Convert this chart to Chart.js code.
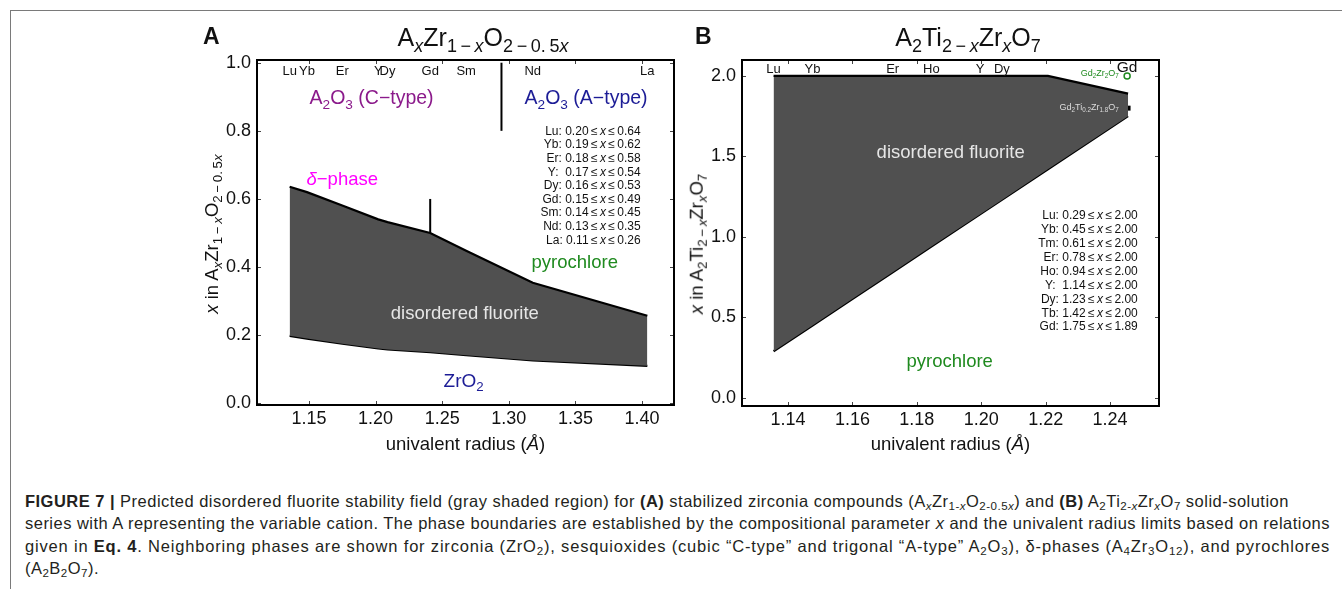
<!DOCTYPE html>
<html><head><meta charset="utf-8">
<script src="https://cdn.jsdelivr.net/npm/chart.js@4.4.1/dist/chart.umd.min.js"></script>
<style>
html,body{margin:0;padding:0;background:#fff;}
body{width:1342px;height:589px;position:relative;overflow:hidden;font-family:"Liberation Sans",Arial,sans-serif;color:#111;}
.frame{position:absolute;left:10px;top:10px;width:1400px;height:700px;border-left:1px solid #7a7a7a;border-top:1px solid #7a7a7a;}
canvas{position:absolute;top:0;}
.letter{position:absolute;font-weight:bold;font-size:23px;line-height:23px;}
.title{position:absolute;font-size:25px;line-height:25px;white-space:nowrap;transform:translateX(-50%);}
.title sub,.ytitle sub{font-size:0.72em;vertical-align:-0.32em;line-height:0;}
.xtitle{position:absolute;font-size:18.5px;line-height:18.5px;white-space:nowrap;transform:translateX(-50%);}
.ytitle{position:absolute;font-size:18.5px;line-height:18.5px;white-space:nowrap;transform:translate(-50%,-50%) rotate(-90deg);}
.caption{position:absolute;left:25px;top:490px;font-size:16.5px;line-height:22.4px;color:#231f20;}
.caption div{white-space:nowrap;}
.caption sub{font-size:0.7em;vertical-align:-0.25em;line-height:0;}
</style>
</head><body>
<div class="frame"></div>
<canvas id="cA" width="495" height="470" style="left:190px"></canvas>
<canvas id="cB" width="500" height="470" style="left:680px"></canvas>

<div class="letter" style="left:203px;top:25px">A</div>
<div class="letter" style="left:695px;top:25px">B</div>
<div class="title" style="left:483px;top:25px">A<sub><i>x</i></sub>Zr<sub>1&#8201;−&#8201;<i>x</i></sub>O<sub>2&#8201;−&#8201;0.&#8201;5<i>x</i></sub></div>
<div class="title" style="left:968px;top:25px">A<sub>2</sub>Ti<sub>2&#8201;−&#8201;<i>x</i></sub>Zr<sub><i>x</i></sub>O<sub>7</sub></div>
<div class="xtitle" style="left:465.5px;top:435px">univalent radius (<i>Å</i>)</div>
<div class="xtitle" style="left:950.5px;top:435px">univalent radius (<i>Å</i>)</div>
<div class="ytitle" style="left:212px;top:234px"><i>x</i> in A<sub><i>x</i></sub>Zr<sub>1&#8201;−&#8201;<i>x</i></sub>O<sub>2&#8201;−&#8201;0.&#8201;5<i>x</i></sub></div>
<div class="ytitle" style="left:697px;top:244px"><i>x</i> in A<sub>2</sub>Ti<sub>2&#8201;−&#8201;<i>x</i></sub>Zr<sub><i>x</i></sub>O<sub>7</sub></div>

<div class="caption">
<div class="c1"><b>FIGURE 7 |</b> Predicted disordered fluorite stability field (gray shaded region) for <b>(A)</b> stabilized zirconia compounds (A<sub><i>x</i></sub>Zr<sub>1-<i>x</i></sub>O<sub>2-0.5<i>x</i></sub>) and <b>(B)</b> A<sub>2</sub>Ti<sub>2-<i>x</i></sub>Zr<sub><i>x</i></sub>O<sub>7</sub> solid-solution</div>
<div class="cl" data-w="1305">series with A representing the variable cation. The phase boundaries are established by the compositional parameter <i>x</i> and the univalent radius limits based on relations</div>
<div class="cl" data-w="1305">given in <b>Eq. 4</b>. Neighboring phases are shown for zirconia (ZrO<sub>2</sub>), sesquioxides (cubic “C-type” and trigonal “A-type” A<sub>2</sub>O<sub>3</sub>), δ-phases (A<sub>4</sub>Zr<sub>3</sub>O<sub>12</sub>), and pyrochlores</div>
<div class="c4">(A<sub>2</sub>B<sub>2</sub>O<sub>7</sub>).</div>
</div>

<script>
// ===== Panel A data: A_xZr(1-x)O(2-0.5x) =====
const aElements = ['Lu','Yb','Er','Y','Dy','Gd','Sm','Nd','La'];
const aRadius   = [1.1355, 1.1485, 1.175, 1.202, 1.209, 1.241, 1.268, 1.318, 1.404];
// stability ranges as printed in the panel's table
const aLowerX   = [0.20, 0.19, 0.18, 0.17, 0.16, 0.15, 0.14, 0.13, 0.11];
const aUpperX   = [0.64, 0.62, 0.58, 0.54, 0.53, 0.49, 0.45, 0.35, 0.26];
// boundary curves as drawn
const aLowerCurve = [0.198, 0.190, 0.175, 0.161, 0.158, 0.150, 0.141, 0.126, 0.110];
const aUpperCurve = [0.636, 0.620, 0.581, 0.540, 0.532, 0.500, 0.448, 0.354, 0.257];
const aDeltaLine = [[1.241, 0.50], [1.241, 0.60]];
const aTypeLine  = [[1.2945, 0.80], [1.2945, 1.00]];
const aXTicks = [1.15, 1.20, 1.25, 1.30, 1.35, 1.40];
const aXTickLabels = ['1.15','1.20','1.25','1.30','1.35','1.40'];
const aYTicks = [0, 0.2, 0.4, 0.6, 0.8, 1.0];
const aYTickLabels = ['0.0','0.2','0.4','0.6','0.8','1.0'];

// ===== Panel B data: A2Ti(2-x)Zr(x)O7 =====
const bElements = ['Lu','Yb','Tm','Er','Ho','Y','Dy','Tb','Gd'];
const bRadius   = [1.1355, 1.1476, 1.1596, 1.1725, 1.1845, 1.1996, 1.2064, 1.2207, 1.2456];
const bLowerX   = [0.29, 0.45, 0.61, 0.78, 0.94, 1.14, 1.23, 1.42, 1.75];
const bUpperX   = [2.00, 2.00, 2.00, 2.00, 2.00, 2.00, 2.00, 2.00, 1.89];
const bTopLabels = ['Lu','Yb','Er','Ho','Y','Dy'];
const bGd2Zr2O7 = [1.2453, 2.00];
const bGdTiZr   = [1.2456, 1.80];
const bXTicks = [1.14, 1.16, 1.18, 1.20, 1.22, 1.24];
const bXTickLabels = ['1.14','1.16','1.18','1.20','1.22','1.24'];
const bYTicks = [0, 0.5, 1.0, 1.5, 2.0];
const bYTickLabels = ['0.0','0.5','1.0','1.5','2.0'];

const FONT = '"Liberation Sans", Arial, sans-serif';
const FILL = '#505050';
const GREEN = '#1f8a1f', PURPLE = '#8b1a8b', BLUE = '#1c1c96', MAGENTA = '#ff00ff', LIGHT = '#e6e6e6';
Chart.defaults.font.family = FONT;

function drawRich(ctx, segs, px, py, size, color, align) {
  const parts = segs.map(([t, f]) => {
    f = f || 0;
    const sub = f & 1, it = f & 2;
    const s = sub ? size * 0.7 : size;
    const font = (it ? 'italic ' : '') + s + 'px ' + FONT;
    ctx.font = font;
    return {t, font, w: ctx.measureText(t).width, dy: sub ? size * 0.22 : 0};
  });
  const W = parts.reduce((a, p) => a + p.w, 0);
  let x = align === 'right' ? px - W : align === 'left' ? px : px - W / 2;
  const base = py + size * 0.36;
  ctx.fillStyle = color; ctx.textBaseline = 'alphabetic'; ctx.textAlign = 'left';
  parts.forEach(p => { ctx.font = p.font; ctx.fillText(p.t, x, base + p.dy); x += p.w; });
}

const boxTicks = {
  id: 'boxTicks',
  afterDatasetsDraw(chart) {
    const {ctx, chartArea: a, scales: {x, y}} = chart;
    ctx.save();
    ctx.strokeStyle = '#444'; ctx.lineWidth = 1;
    const L = 4;
    ctx.beginPath();
    x.ticks.forEach(t => {
      const p = Math.round(x.getPixelForValue(t.value)) + 0.5;
      ctx.moveTo(p, a.bottom); ctx.lineTo(p, a.bottom - L);
      ctx.moveTo(p, a.top); ctx.lineTo(p, a.top + L);
    });
    y.ticks.forEach(t => {
      const p = Math.round(y.getPixelForValue(t.value)) + 0.5;
      ctx.moveTo(a.left, p); ctx.lineTo(a.left + L, p);
      ctx.moveTo(a.right, p); ctx.lineTo(a.right - L, p);
    });
    ctx.stroke();
    ctx.strokeStyle = '#000'; ctx.lineWidth = 2;
    ctx.strokeRect(a.left, a.top, a.right - a.left, a.bottom - a.top);
    ctx.restore();
  }
};

function rangeText(el, lo, hi) {
  return [[el + ':' + (el.length === 1 ? '  ' : ' ') + lo.toFixed(2) + '\u2009≤\u2009'], ['x', 2], ['\u2009≤\u2009' + hi.toFixed(2)]];
}

function notesPlugin(draw) {
  return { id: 'notes', afterDraw(chart) { const ctx = chart.ctx; ctx.save(); draw(ctx, chart.scales.x, chart.scales.y); ctx.restore(); } };
}

function baseOptions(xmin, xmax, ymin, ymax, xt, xl, yt, yl, yWidth, xHeight, padRight) {
  return {
    responsive: false, animation: false, devicePixelRatio: 1,
    layout: {padding: {top: 60, right: padRight, left: 0, bottom: 0}},
    plugins: {legend: {display: false}, tooltip: {enabled: false}},
    scales: {
      x: {type: 'linear', min: xmin, max: xmax,
        afterFit(s) { s.height = xHeight; },
        afterBuildTicks(s) { s.ticks = xt.map(v => ({value: v})); },
        ticks: {callback: (v, i) => xl[i], font: {size: 18}, color: '#111', padding: 3, maxRotation: 0, autoSkip: false, includeBounds: false},
        grid: {display: false, drawTicks: false}, border: {display: false}},
      y: {type: 'linear', min: ymin, max: ymax,
        afterFit(s) { s.width = yWidth; },
        afterBuildTicks(s) { s.ticks = yt.map(v => ({value: v})); },
        ticks: {callback: (v, i) => yl[i], font: {size: 18}, color: '#111', padding: 6, autoSkip: false, includeBounds: false},
        grid: {display: false, drawTicks: false}, border: {display: false}}
    }
  };
}

// ---------- Panel A ----------
new Chart(document.getElementById('cA'), {
  type: 'line',
  data: {datasets: [
    {data: aRadius.map((r, i) => ({x: r, y: aUpperCurve[i]})), borderColor: '#000', borderWidth: 2.2, backgroundColor: FILL, fill: '+1', pointRadius: 0},
    {data: aRadius.map((r, i) => ({x: r, y: aLowerCurve[i]})), borderColor: '#000', borderWidth: 2.2, fill: false, pointRadius: 0},
    {data: aDeltaLine.map(p => ({x: p[0], y: p[1]})), borderColor: '#000', borderWidth: 2, fill: false, pointRadius: 0},
    {data: aTypeLine.map(p => ({x: p[0], y: p[1]})), borderColor: '#000', borderWidth: 2, fill: false, pointRadius: 0}
  ]},
  options: baseOptions(1.111, 1.424, -0.005, 1.008, aXTicks, aXTickLabels, aYTicks, aYTickLabels, 67, 65, 11),
  plugins: [boxTicks, notesPlugin((ctx, x, y) => {
    aElements.forEach((el, i) => drawRich(ctx, [[el]], x.getPixelForValue(aRadius[i]), y.getPixelForValue(0.977), 13, '#111', 'center'));
    drawRich(ctx, [['A'], ['2', 1], ['O'], ['3', 1], [' (C−type)']], x.getPixelForValue(1.197), y.getPixelForValue(0.898), 19.5, PURPLE, 'center');
    drawRich(ctx, [['A'], ['2', 1], ['O'], ['3', 1], [' (A−type)']], x.getPixelForValue(1.358), y.getPixelForValue(0.898), 19.5, BLUE, 'center');
    drawRich(ctx, [['δ', 2], ['−phase']], x.getPixelForValue(1.175), y.getPixelForValue(0.661), 18.5, MAGENTA, 'center');
    drawRich(ctx, [['pyrochlore']], x.getPixelForValue(1.3495), y.getPixelForValue(0.417), 18.5, GREEN, 'center');
    drawRich(ctx, [['disordered fluorite']], x.getPixelForValue(1.267), y.getPixelForValue(0.266), 18.5, LIGHT, 'center');
    drawRich(ctx, [['ZrO'], ['2', 1]], x.getPixelForValue(1.2661), y.getPixelForValue(0.067), 19, BLUE, 'center');
    const rx = x.getPixelForValue(1.399), ry = y.getPixelForValue(0.801);
    aElements.forEach((el, i) => drawRich(ctx, rangeText(el, aLowerX[i], aUpperX[i]), rx, ry + i * 13.6, 12, '#111', 'right'));
  })]
});

// ---------- Panel B ----------
new Chart(document.getElementById('cB'), {
  type: 'line',
  data: {datasets: [
    {data: bRadius.map((r, i) => ({x: r, y: bUpperX[i]})), borderColor: '#000', borderWidth: 2.2, backgroundColor: FILL, fill: '+1', pointRadius: 0},
    {data: bRadius.map((r, i) => ({x: r, y: bLowerX[i]})), borderColor: '#000', borderWidth: 2.2, fill: false, pointRadius: 0},
    {data: [{x: bGd2Zr2O7[0], y: bGd2Zr2O7[1]}], showLine: false, pointStyle: 'circle', pointRadius: 3, pointBorderColor: GREEN, pointBackgroundColor: 'rgba(0,0,0,0)', pointBorderWidth: 1.5},
    {data: [{x: bGdTiZr[0], y: bGdTiZr[1]}], showLine: false, pointStyle: 'rect', pointRadius: 3.5, pointBorderColor: '#000', pointBackgroundColor: '#000', pointBorderWidth: 0}
  ]},
  options: baseOptions(1.1257, 1.2552, -0.05, 2.099, bXTicks, bXTickLabels, bYTicks, bYTickLabels, 62, 64, 21),
  plugins: [boxTicks, notesPlugin((ctx, x, y) => {
    bTopLabels.forEach(el => { const i = bElements.indexOf(el); drawRich(ctx, [[el]], x.getPixelForValue(bRadius[i]), y.getPixelForValue(2.047), 13, '#111', 'center'); });
    drawRich(ctx, [['Gd']], x.getPixelForValue(bGd2Zr2O7[0]), y.getPixelForValue(2.06), 15.5, '#111', 'center');
    drawRich(ctx, [['Gd'], ['2', 1], ['Zr'], ['2', 1], ['O'], ['7', 1]], x.getPixelForValue(1.2427), y.getPixelForValue(2.02), 9, GREEN, 'right');
    drawRich(ctx, [['Gd'], ['2', 1], ['Ti'], ['0.2', 1], ['Zr'], ['1.8', 1], ['O'], ['7', 1]], x.getPixelForValue(1.2427), y.getPixelForValue(1.81), 9, '#dddddd', 'right');
    drawRich(ctx, [['disordered fluorite']], x.getPixelForValue(1.1905), y.getPixelForValue(1.534), 18.5, LIGHT, 'center');
    drawRich(ctx, [['pyrochlore']], x.getPixelForValue(1.1902), y.getPixelForValue(0.236), 18.5, GREEN, 'center');
    const rx = x.getPixelForValue(1.2486), ry = y.getPixelForValue(1.137);
    bElements.forEach((el, i) => drawRich(ctx, rangeText(el, bLowerX[i], bUpperX[i]), rx, ry + i * 13.9, 12, '#111', 'right'));
  })]
});

// fit justified caption lines to their widths; reuse spacing for the other lines
const cls = Array.from(document.querySelectorAll('.cl'));
cls.forEach(d => {
  const target = +d.dataset.w;
  d.style.display = 'inline-block';
  const w = d.getBoundingClientRect().width;
  const n = d.textContent.length;
  d.style.letterSpacing = ((target - w) / n) + 'px';
  d.style.display = 'block';
});
document.querySelector('.c1').style.letterSpacing = cls[0].style.letterSpacing;
document.querySelector('.c4').style.letterSpacing = cls[0].style.letterSpacing;
</script>
</body></html>
